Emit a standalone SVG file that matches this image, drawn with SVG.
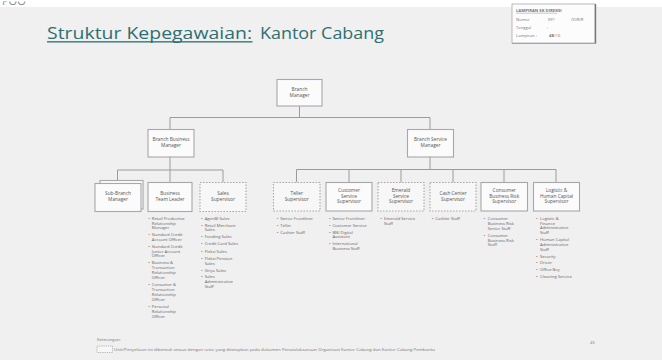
<svg xmlns="http://www.w3.org/2000/svg" width="662" height="360" viewBox="0 0 662 360">
<style>
.bg{fill:#f0f0f0}
.box{fill:#fbfbfb;stroke:#a8a8a8;stroke-width:1.1}
.dbox{fill:#f7f7f7;stroke:#a8a8a8;stroke-width:1.1;stroke-dasharray:1.6 1.4}
.lbl{font-family:"Open Sans","Liberation Sans",sans-serif;font-size:4.8px;fill:#555;text-anchor:middle}
.bul{font-family:"Open Sans","Liberation Sans",sans-serif;font-size:4.2px;fill:#666}
.con{fill:none;stroke:#9c9c9c;stroke-width:1}
.small{font-family:"Open Sans","Liberation Sans",sans-serif;font-size:4.2px;fill:#777}
.title{font-family:"Open Sans","Liberation Sans",sans-serif;font-size:17px;fill:#2d6f72}
</style>
<rect class="bg" x="0" y="0" width="662" height="360"/>
<rect x="0" y="0" width="662" height="7" fill="#ffffff"/>
<text x="2" y="4.5" font-family="Open Sans, Liberation Sans, sans-serif" font-size="11px" fill="#888">POO</text>
<rect x="0" y="0" width="662" height="1.5" fill="#ffffff"/>

<g id="title">
<text class="title" x="47" y="39.3" textLength="205" lengthAdjust="spacingAndGlyphs">Struktur Kepegawaian:</text>
<rect x="47" y="41.2" width="205.5" height="1.3" fill="#2d6f72"/>
<text class="title" x="260" y="39.3" textLength="124" lengthAdjust="spacingAndGlyphs">Kantor Cabang</text>
</g>

<g id="lampiran">
<rect x="512" y="4" width="83" height="39" fill="#fcfcfc" stroke="#aaa" stroke-width="0.8"/>
<line x1="595.5" y1="4" x2="595.5" y2="43.5" stroke="#777" stroke-width="1.4"/>
<line x1="512" y1="43.5" x2="596" y2="43.5" stroke="#999" stroke-width="0.8"/>
<text class="small" x="516" y="12" font-weight="bold" fill="#666">LAMPIRAN SK DIREKSI</text>
<line x1="516" y1="13.2" x2="557" y2="13.2" stroke="#777" stroke-width="0.4"/>
<text class="small" x="516" y="20.5">Nomor</text>
<text class="small" x="548" y="20.5">KP/</text>
<text class="small" x="571" y="20.5">/DIR/R</text>
<text class="small" x="516" y="28.5">Tanggal</text>
<text class="small" x="547" y="28.5">:</text>
<text class="small" x="516" y="37">Lampiran :</text>
<text class="small" x="549" y="37" font-weight="bold" fill="#555">48</text>
<text class="small" x="554" y="37">/16</text>
</g>

<g id="connectors">
<path class="con" d="M299.5 106V117.5M170 117.5H430M170 117.5V129M430 117.5V129"/>
<path class="con" d="M170 157V170M117.5 170H223M117.5 170V180.5M170 170V182.5M223 170V182.5"/>
<path class="con" d="M430 157V169.5M296.5 169.5H556M296.5 169.5V182.5M349 169.5V182.5M401 169.5V182.5M453 169.5V182.5M504 169.5V182.5M556 169.5V182.5"/>
</g>

<g id="branch-manager">
<rect class="box" x="277" y="79.5" width="45" height="26.5"/>
<text class="lbl" x="299.5" y="91">Branch</text>
<text class="lbl" x="299.5" y="96.7">Manager</text>
</g>

<g id="branch-business-manager">
<rect class="box" x="148" y="129.5" width="46" height="27.5"/>
<text class="lbl" x="171" y="141.4">Branch Business</text>
<text class="lbl" x="171" y="147">Manager</text>
</g>

<g id="branch-service-manager">
<rect class="box" x="407.5" y="129.5" width="46" height="27.5"/>
<text class="lbl" x="430.5" y="141.4">Branch Service</text>
<text class="lbl" x="430.5" y="147">Manager</text>
</g>

<g id="sub-branch-manager">
<rect class="box" x="100" y="180.5" width="43" height="28.5"/>
<rect class="box" x="95" y="183.5" width="46" height="28"/>
<text class="lbl" x="118" y="195">Sub-Branch</text>
<text class="lbl" x="118" y="200.8">Manager</text>
</g>

<g id="business-team-leader">
<rect class="box" x="148" y="182.5" width="44" height="29"/>
<text class="lbl" x="170" y="195">Business</text>
<text class="lbl" x="170" y="200.8">Team Leader</text>
<text class="bul" x="148.3" y="219.8">•</text>
<text class="bul" x="151.8" y="219.8">Retail Productive</text>
<text class="bul" x="151.8" y="224.6">Relationship</text>
<text class="bul" x="151.8" y="229.4">Manager</text>
<text class="bul" x="148.3" y="236.4">•</text>
<text class="bul" x="151.8" y="236.4">Standard Credit</text>
<text class="bul" x="151.8" y="241.2">Account Officer</text>
<text class="bul" x="148.3" y="247.8">•</text>
<text class="bul" x="151.8" y="247.8">Standard Credit</text>
<text class="bul" x="151.8" y="252.6">Junior Account</text>
<text class="bul" x="151.8" y="257.4">Officer</text>
<text class="bul" x="148.3" y="264.2">•</text>
<text class="bul" x="151.8" y="264.2">Business &amp;</text>
<text class="bul" x="151.8" y="269">Transaction</text>
<text class="bul" x="151.8" y="273.8">Relationship</text>
<text class="bul" x="151.8" y="278.6">Officer</text>
<text class="bul" x="148.3" y="285.6">•</text>
<text class="bul" x="151.8" y="285.6">Consumer &amp;</text>
<text class="bul" x="151.8" y="290.6">Transaction</text>
<text class="bul" x="151.8" y="295.6">Relationship</text>
<text class="bul" x="151.8" y="300.6">Officer</text>
<text class="bul" x="148.3" y="307.6">•</text>
<text class="bul" x="151.8" y="307.6">Personal</text>
<text class="bul" x="151.8" y="312.6">Relationship</text>
<text class="bul" x="151.8" y="317.6">Officer</text>
</g>

<g id="sales-supervisor">
<rect class="dbox" x="200" y="182.5" width="46" height="29"/>
<text class="lbl" x="223" y="195">Sales</text>
<text class="lbl" x="223" y="200.8">Supervisor</text>
<text class="bul" x="201" y="219.8">•</text>
<text class="bul" x="204.7" y="219.8">AgenBI Sales</text>
<text class="bul" x="201" y="226.6">•</text>
<text class="bul" x="204.7" y="226.6">Retail Merchant</text>
<text class="bul" x="204.7" y="231.4">Sales</text>
<text class="bul" x="201" y="238.3">•</text>
<text class="bul" x="204.7" y="238.3">Funding Sales</text>
<text class="bul" x="201" y="245.3">•</text>
<text class="bul" x="204.7" y="245.3">Credit Card Sales</text>
<text class="bul" x="201" y="252.6">•</text>
<text class="bul" x="204.7" y="252.6">Fleksi Sales</text>
<text class="bul" x="201" y="259.9">•</text>
<text class="bul" x="204.7" y="259.9">Fleksi Pensiun</text>
<text class="bul" x="204.7" y="264.7">Sales</text>
<text class="bul" x="201" y="271.6">•</text>
<text class="bul" x="204.7" y="271.6">Griya Sales</text>
<text class="bul" x="201" y="278.3">•</text>
<text class="bul" x="204.7" y="278.3">Sales</text>
<text class="bul" x="204.7" y="283">Administrative</text>
<text class="bul" x="204.7" y="287.8">Staff</text>
</g>

<g id="teller-supervisor">
<rect class="dbox" x="273.5" y="182.5" width="46.5" height="28.5"/>
<text class="lbl" x="296.7" y="195">Teller</text>
<text class="lbl" x="296.7" y="200.8">Supervisor</text>
<text class="bul" x="276.7" y="219.8">•</text>
<text class="bul" x="280.2" y="219.8">Senior Frontliner</text>
<text class="bul" x="276.7" y="226.6">•</text>
<text class="bul" x="280.2" y="226.6">Teller</text>
<text class="bul" x="276.7" y="233.8">•</text>
<text class="bul" x="280.2" y="233.8">Cashier Staff</text>
</g>

<g id="customer-service-supervisor">
<rect class="box" x="326" y="182.5" width="46" height="28.5"/>
<text class="lbl" x="349" y="192.2">Customer</text>
<text class="lbl" x="349" y="197.7">Service</text>
<text class="lbl" x="349" y="203.2">Supervisor</text>
<text class="bul" x="329" y="219.8">•</text>
<text class="bul" x="332.4" y="219.8">Senior Frontliner</text>
<text class="bul" x="329" y="226.6">•</text>
<text class="bul" x="332.4" y="226.6">Customer Service</text>
<text class="bul" x="329" y="233.8">•</text>
<text class="bul" x="332.4" y="233.8">BNI Digital</text>
<text class="bul" x="332.4" y="238.3">Assistant</text>
<text class="bul" x="329" y="245.3">•</text>
<text class="bul" x="332.4" y="245.3">International</text>
<text class="bul" x="332.4" y="250.2">Business Staff</text>
</g>

<g id="emerald-service-supervisor">
<rect class="dbox" x="378" y="182.5" width="46" height="28.5"/>
<text class="lbl" x="401" y="192.2">Emerald</text>
<text class="lbl" x="401" y="197.7">Service</text>
<text class="lbl" x="401" y="203.2">Supervisor</text>
<text class="bul" x="380.2" y="219.8">•</text>
<text class="bul" x="384" y="219.8">Emerald Service</text>
<text class="bul" x="384" y="224.8">Staff</text>
</g>

<g id="cash-center-supervisor">
<rect class="dbox" x="430" y="182.5" width="46" height="28.5"/>
<text class="lbl" x="453" y="195">Cash Center</text>
<text class="lbl" x="453" y="200.8">Supervisor</text>
<text class="bul" x="431.7" y="219.8">•</text>
<text class="bul" x="435.2" y="219.8">Cashier Staff</text>
</g>

<g id="consumer-business-risk-supervisor">
<rect class="box" x="481" y="182.5" width="46.5" height="28.5"/>
<text class="lbl" x="504.2" y="192.2">Consumer</text>
<text class="lbl" x="504.2" y="197.7">Business Risk</text>
<text class="lbl" x="504.2" y="203.2">Supervisor</text>
<text class="bul" x="483.5" y="219.8">•</text>
<text class="bul" x="487.8" y="219.8">Consumer</text>
<text class="bul" x="487.8" y="224.8">Business Risk</text>
<text class="bul" x="487.8" y="229.6">Senior Staff</text>
<text class="bul" x="483.5" y="236.5">•</text>
<text class="bul" x="487.8" y="236.5">Consumer</text>
<text class="bul" x="487.8" y="241.5">Business Risk</text>
<text class="bul" x="487.8" y="246.3">Staff</text>
</g>

<g id="logistic-human-capital-supervisor">
<rect class="box" x="533.5" y="182.5" width="46" height="28.5"/>
<text class="lbl" x="556.5" y="192.2">Logistic &amp;</text>
<text class="lbl" x="556.5" y="197.7">Human Capital</text>
<text class="lbl" x="556.5" y="203.2">Supervisor</text>
<text class="bul" x="536" y="219.8">•</text>
<text class="bul" x="540" y="219.8">Logistic &amp;</text>
<text class="bul" x="540" y="224.6">Finance</text>
<text class="bul" x="540" y="229.4">Administrative</text>
<text class="bul" x="540" y="234.4">Staff</text>
<text class="bul" x="536" y="241">•</text>
<text class="bul" x="540" y="241">Human Capital</text>
<text class="bul" x="540" y="245.8">Administrative</text>
<text class="bul" x="540" y="250.6">Staff</text>
<text class="bul" x="536" y="257.5">•</text>
<text class="bul" x="540" y="257.5">Security</text>
<text class="bul" x="536" y="264.2">•</text>
<text class="bul" x="540" y="264.2">Driver</text>
<text class="bul" x="536" y="271.4">•</text>
<text class="bul" x="540" y="271.4">Office Boy</text>
<text class="bul" x="536" y="278.2">•</text>
<text class="bul" x="540" y="278.2">Cleaning Service</text>
</g>

<g id="footer">
<text class="small" x="97" y="340.5" font-size="3.8px">Keterangan:</text>
<rect x="97" y="346" width="15.5" height="6.5" fill="#f7f7f7" stroke="#999" stroke-width="0.7" stroke-dasharray="1.2 1"/>
<text class="small" x="114" y="351" font-size="3.8px" textLength="321" lengthAdjust="spacingAndGlyphs">Unit/Penyeliaan ini dibentuk sesuai dengan rasio yang ditetapkan pada dokumen Penatalaksanaan Organisasi Kantor Cabang dan Kantor Cabang Pembantu</text>
<text class="small" x="590" y="343.5" font-size="4.2px">45</text>
</g>
</svg>
